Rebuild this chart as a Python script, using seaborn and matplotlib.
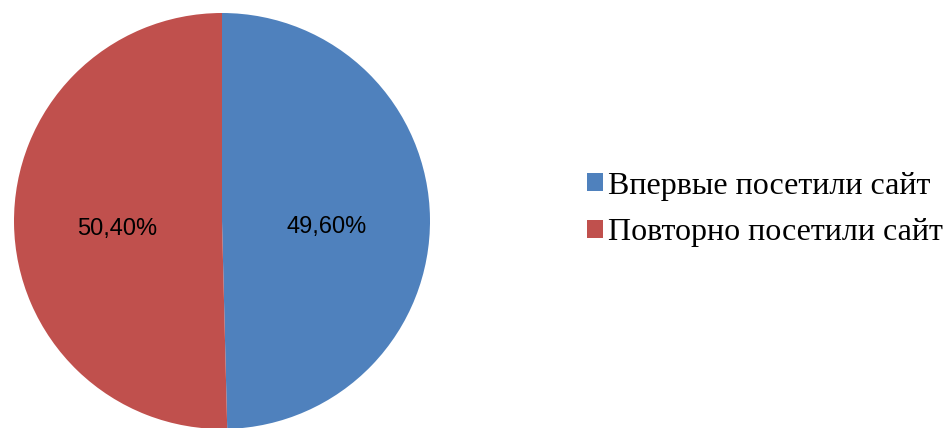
import matplotlib
matplotlib.use("Agg")
import matplotlib.pyplot as plt
import seaborn as sns
from matplotlib.patches import Patch

categories = ["Впервые посетили сайт", "Повторно посетили сайт"]
values = [49.6, 50.4]
colors = ["#4F81BD", "#C0504D"]

sns.set_theme(style="white")
plt.rcParams['font.family'] = ['Liberation Sans', 'DejaVu Sans']

fig = plt.figure(figsize=(9.5, 4.28), dpi=100)
fig.patch.set_facecolor("white")
# pie area: center (222, 221) px, radius ~208 px
r_px = 208
cx, cy = 222, 221
ax = fig.add_axes([(cx - r_px) / 950, (428 - cy - r_px) / 428, 2 * r_px / 950, 2 * r_px / 428])
wedges, texts, autotexts = ax.pie(
    values, colors=colors, startangle=90, counterclock=False,
    autopct=lambda p: f"{p:.2f}".replace('.', ',') + '%',
    pctdistance=0.505, radius=1.0,
    wedgeprops=dict(linewidth=0),
    textprops=dict(fontsize=17, color="black", family=['Liberation Sans', 'DejaVu Sans']),
)
for t in autotexts:
    x, y = t.get_position()
    t.set_position((x, y - 7 / r_px))
ax.set_xlim(-1, 1)
ax.set_ylim(-1, 1)
ax.set_aspect('equal')
ax.axis('off')

handles = [Patch(facecolor=c, edgecolor='none') for c in colors]
leg = fig.legend(handles, categories, loc='center left', bbox_to_anchor=(587 / 950, 1 - 209.5 / 428),
                 frameon=False, handlelength=0.5, handleheight=0.5, handletextpad=0.16,
                 labelspacing=0.55, borderaxespad=0, borderpad=0,
                 prop=dict(family=['Liberation Serif', 'DejaVu Serif'], size=23))
for t in leg.get_texts():
    t.set_color("black")

fig.savefig("out.png", dpi=100, facecolor="white")
